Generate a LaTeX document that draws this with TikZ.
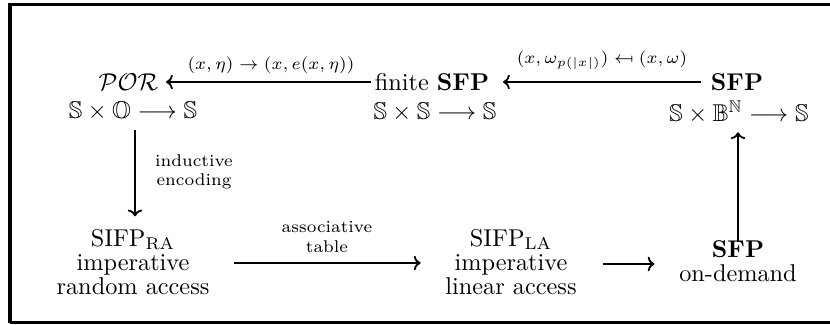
\documentclass[tikz,border=0pt]{standalone}
\usepackage{amsmath,amssymb}
\usepackage{stmaryrd}
\usetikzlibrary{arrows.meta}
\begin{document}
\begin{tikzpicture}[x=0.4115pt,y=-0.4115pt,
  arr/.style={line width=0.75pt,-{To[length=2.8pt,width=6pt]}},
  obj/.style={inner sep=1pt,align=center},
  lbl/.style={inner sep=0pt,align=center,font=\scriptsize}]
\useasboundingbox (0,0) rectangle (830,324);
\draw[line width=1.5pt] (830,4.5) -- (9.7,4.5) -- (9.7,323);
\draw[line width=1.1pt] (9.7,322.6) -- (830,322.6);
% top row
\node[obj] (por) at (128.5,82) {$\mathcal{POR}$};
\node[obj] (fsfp) at (432,82) {finite \textbf{SFP}};
\node[obj] (sfp) at (737,82) {\textbf{SFP}};
\node[obj] (t1) at (133,112) {$\mathbb{S}\times\mathbb{O}\longrightarrow\mathbb{S}$};
\node[obj] (t2) at (435,112) {$\mathbb{S}\times\mathbb{S}\longrightarrow\mathbb{S}$};
\node[obj] (t3) at (739,112) {$\mathbb{S}\times\mathbb{B}^{\mathbb{N}}\longrightarrow\mathbb{S}$};
% bottom row
\node[obj] (ra) at (133,262) {SIFP$_{\mathrm{RA}}$\\[-2pt]imperative\\[-2pt]random access};
\node[obj] (la) at (511,262) {SIFP$_{\mathrm{LA}}$\\[-2pt]imperative\\[-2pt]linear access};
\node[obj] (od) at (738,261) {\textbf{SFP}\\[-2pt]on-demand};
% arrows
\draw[arr,shorten <=0.5pt,shorten >=2pt] (fsfp) -- (por);
\draw[arr,shorten <=3pt,shorten >=4.5pt] (sfp) -- (fsfp);
\draw[arr,shorten <=2pt,shorten >=4pt] (t1.south -| 135,0) -- (ra.north -| 135,0);
\draw[arr,shorten <=9pt,shorten >=9pt] (ra.east |- 0,263) -- (la.west |- 0,263);
\draw[arr,shorten <=9.5pt,shorten >=9pt] (la.east |- 0,264) -- (od.west |- 0,264);
\draw[arr,shorten <=-2pt,shorten >=2.5pt] (od.north -| 738,0) -- (t3.south -| 738,0);
% labels
\node[lbl] (l1) at (271,65) {$(x,\eta)\to(x,e(x,\eta))$};
\node[lbl] (l2) at (602,60) {$(x,\omega_{p(|x|)})\mapsfrom(x,\omega)$};
\node[lbl] (l3) at (194,172) {inductive\\encoding};
\node[lbl] (l4) at (327,237) {associative\\table};
\end{tikzpicture}
\end{document}
